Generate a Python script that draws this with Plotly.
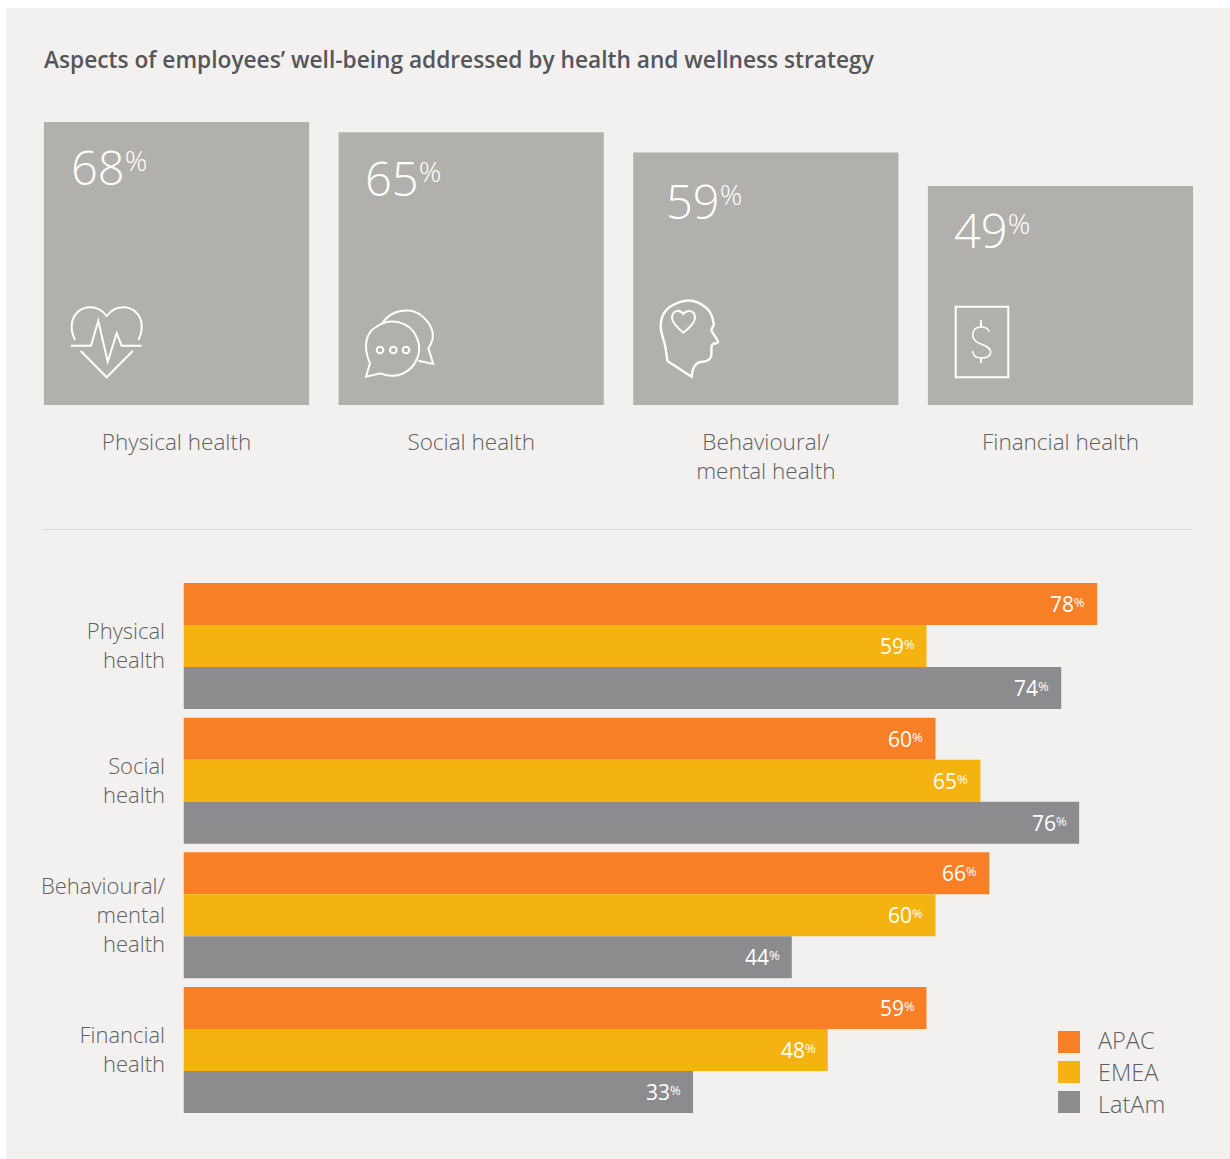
import re
import plotly.graph_objects as go

# Headline figures for the four aspects of well-being
aspects = ["Physical health", "Social health", "Behavioural/<br>mental health", "Financial health"]
overall = [68, 65, 59, 49]

# Regional breakdown
region_labels = ["Physical<br>health", "Social<br>health", "Behavioural/<br>mental<br>health", "Financial<br>health"]
apac = [78, 60, 66, 59]
emea = [59, 65, 60, 48]
latam = [74, 76, 44, 33]
regions = ["APAC", "EMEA", "LatAm"]

W, H = 1230, 1159
FONT = "Open Sans"
TEXT = "#5f6063"
ORANGE, YELLOW, GREY = "#f78027", "#f4b311", "#8c8c8e"
CARD = "#b2b0ad"
PANEL = "#f2f1ef"

# The value axes do not start at zero
CARD_BASE = -16.0
BAR_BASE = -23.74


def fx(px):
    return px / W


def fy(px):
    return 1 - px / H


def to_paper(path):
    """Convert an SVG path written in page pixels into paper coordinates."""
    flag = [True]

    def swap(m):
        v = float(m.group())
        out = fx(v) if flag[0] else fy(v)
        flag[0] = not flag[0]
        return f"{out:.5f}"

    return re.sub(r"-?\d+\.?\d*", swap, path)


def spline(points, tension=6.0):
    """Smooth open path through the points (Catmull-Rom written as cubic segments)."""
    n = len(points)
    d = f"M {points[0][0]} {points[0][1]}"
    for i in range(n - 1):
        p0 = points[i - 1] if i > 0 else points[i]
        p1 = points[i]
        p2 = points[i + 1]
        p3 = points[i + 2] if i + 2 < n else p2
        c1 = (p1[0] + (p2[0] - p0[0]) / tension, p1[1] + (p2[1] - p0[1]) / tension)
        c2 = (p2[0] - (p3[0] - p1[0]) / tension, p2[1] - (p3[1] - p1[1]) / tension)
        d += f" C {c1[0]:.2f} {c1[1]:.2f} {c2[0]:.2f} {c2[1]:.2f} {p2[0]:.2f} {p2[1]:.2f}"
    return d


def zoomed(points, ox, oy):
    """Icon outlines are drafted at 3x; bring them back to page pixels."""
    return [(ox + x / 3, oy + y / 3) for x, y in points]


def icon(path, width=2.0):
    return dict(type="path", xref="paper", yref="paper", path=to_paper(path),
                line=dict(color="white", width=width), fillcolor="rgba(0,0,0,0)", layer="above")


def ring(cx, cy, r, width=2.0):
    return dict(type="circle", xref="paper", yref="paper", x0=fx(cx - r), x1=fx(cx + r),
                y0=fy(cy + r), y1=fy(cy - r), line=dict(color="white", width=width),
                fillcolor="rgba(0,0,0,0)", layer="above")


def pct(value, size, raise_by):
    """Value followed by a small raised percent sign."""
    return f'{value}<span style="font-size:{size}px;baseline-shift:{raise_by}px">%</span>'


fig = go.Figure()

# Cards: one tall bar per aspect
fig.add_trace(go.Bar(
    x=aspects, y=[v - CARD_BASE for v in overall], base=CARD_BASE,
    marker=dict(color=CARD, line=dict(width=0)), width=0.9,
    xaxis="x", yaxis="y", showlegend=False, hoverinfo="x+text",
    hovertext=[f"{v}%" for v in overall],
))

# Regional bars
for name, values, colour in zip(regions, (apac, emea, latam), (ORANGE, YELLOW, GREY)):
    fig.add_trace(go.Bar(
        name=name, orientation="h", y=region_labels,
        x=[v - BAR_BASE for v in values], base=BAR_BASE,
        marker=dict(color=colour, line=dict(width=0)),
        xaxis="x2", yaxis="y2", showlegend=False,
        hovertext=[f"{v}%" for v in values], hoverinfo="y+text+name",
    ))

annotations = []

# Large percentages on the cards, each nudged to its own spot
card_offsets = [(-107.5, -11), (-108.5, -12), (-101.5, -15), (-108.5, -10)]
for label, v, (dx, dy) in zip(aspects, overall, card_offsets):
    annotations.append(dict(
        x=label, y=v, xref="x", yref="y", xanchor="left", yanchor="top",
        xshift=dx, yshift=dy, showarrow=False,
        text=pct(v, 28, 14),
        font=dict(family=FONT, size=47, color="white", weight=350),
    ))

# Value labels inside the end of each regional bar
for idx, values in enumerate((apac, emea, latam)):
    for row, v in enumerate(values):
        annotations.append(dict(
            x=v, y=row + (idx - 1) * 0.3118, xref="x2", yref="y2",
            xanchor="right", yanchor="middle", xshift=-10, yshift=0, showarrow=False,
            text=pct(v, 13, 5.5),
            font=dict(family=FONT, size=21, color="white", weight=400),
        ))

# Region key
shapes = [
    dict(type="rect", xref="paper", yref="paper", x0=fx(6), x1=1.01, y0=-0.01, y1=fy(8),
         fillcolor=PANEL, line=dict(width=0), layer="below"),
    dict(type="line", xref="paper", yref="paper", x0=fx(44), x1=fx(1192), y0=fy(529.5), y1=fy(529.5),
         line=dict(color="#d6d6d4", width=1)),
]
key_swatches = [1031, 1061, 1091]
key_text = [1040, 1072, 1104]
for name, colour, top, mid in zip(regions, (ORANGE, YELLOW, GREY), key_swatches, key_text):
    shapes.append(dict(type="rect", xref="paper", yref="paper", x0=fx(1058), x1=fx(1080),
                       y0=fy(top + 22), y1=fy(top), fillcolor=colour, line=dict(width=0)))
    annotations.append(dict(x=fx(1096), y=fy(mid), xref="paper", yref="paper", xanchor="left",
                            yanchor="middle", showarrow=False, text=name,
                            font=dict(family=FONT, size=23.5, color=TEXT, weight=300)))

# Heart and pulse icon
shapes += [
    icon("M 75 340 C 72.5 335 71.5 331 71.7 326 C 72 315 80 307.3 90 307.3 C 97 307.3 103 311 106.7 316 "
         "C 110.5 311 116.5 307.3 123.3 307.3 C 133.5 307.3 141.5 315 141.7 326 C 141.8 331 141 335 138.3 340"),
    icon("M 71 345.7 L 91 345.7 L 98.3 320.7 L 107.7 361.7 L 116.7 333.3 L 121.7 345.7 L 141.7 345.7"),
    icon("M 80.7 351 L 106.7 377.3 L 132.7 351"),
]

# Speech bubbles icon
shapes += [
    icon("M 370 363.3 C 362 345 367 332 376 327 C 390 317 410 321 417 338 C 423 352 416 368 402 374 "
         "C 394 377 387 376 380.7 373.3 L 366 376.7 Z"),
    icon("M 381.7 324.3 C 390 310 410 306 422 316 C 434 326 436 338 428.3 348.3 L 433.3 364 L 418.3 360.7"),
    ring(380, 350, 3.3), ring(393.3, 350, 3.3), ring(406, 350, 3.3),
]

# Head and heart icon
head = [(82, 213), (76, 170), (62, 110), (75, 65), (115, 38), (160, 33), (205, 60), (221, 100), (215, 122),
        (234, 155), (216, 165), (213, 200), (200, 213), (175, 218), (160, 235), (155, 260)]
shapes += [
    icon(spline(zoomed(head, 640, 290)) + f" L {640 + 82 / 3:.2f} {290 + 213 / 3:.2f}", 2.4),
    icon("M 683.3 314 C 680 309 672 310 672 318 C 672 323 679 329 683.3 332.7 "
         "C 688 329 695 323 695 318 C 695 310 687 309 683.3 314 Z"),
]

# Banknote icon
shapes += [
    dict(type="rect", xref="paper", yref="paper", x0=fx(955.7), x1=fx(1008.3), y0=fy(377.3), y1=fy(306.7),
         line=dict(color="white", width=2), fillcolor="rgba(0,0,0,0)", layer="above"),
    icon("M 989.3 331.7 C 988 328 984.5 327 981 327 C 976 327 972.7 330 972.7 335 C 972.7 340 977 342.5 981 344 "
         "C 986 346 990.7 348 990.7 352 C 990.7 357 986 358 981 358 C 976 358 973 356 972.7 351", 1.6),
    icon("M 981 320 L 981 327"), icon("M 981 358 L 981 363"),
]

fig.update_layout(
    width=W, height=H, margin=dict(l=0, r=0, t=0, b=0),
    paper_bgcolor="white", plot_bgcolor="rgba(0,0,0,0)",
    barmode="group", bargap=0.0644, bargroupgap=0, hovermode="closest",
    title=dict(text="Aspects of employees’ well-being addressed by health and wellness strategy",
               x=fx(44), xanchor="left", xref="paper", y=fy(60), yanchor="middle", yref="paper",
               font=dict(family=FONT, size=22.7, color="#55565a", weight=600)),
    xaxis=dict(domain=[fx(29.2), fx(1207.8)], anchor="y", type="category", showgrid=False, zeroline=False,
               showline=False, ticks="outside", ticklen=17, tickcolor="rgba(0,0,0,0)",
               tickfont=dict(family=FONT, size=22.5, color=TEXT, weight=300), fixedrange=True),
    yaxis=dict(domain=[fy(405), fy(100)], anchor="x", range=[CARD_BASE, CARD_BASE + 305 / 3.368],
               visible=False, fixedrange=True),
    xaxis2=dict(domain=[fx(183.5), fx(1200)], anchor="y2", range=[BAR_BASE, BAR_BASE + (1200 - 183.5) / 8.98],
                visible=False, fixedrange=True),
    yaxis2=dict(domain=[fy(1117.33), fy(578.67)], anchor="x2", type="category", autorange="reversed",
                showgrid=False, zeroline=False, showline=False, ticks="outside", ticklen=13,
                tickcolor="rgba(0,0,0,0)", tickfont=dict(family=FONT, size=22, color=TEXT, weight=300),
                fixedrange=True),
    shapes=shapes, annotations=annotations,
)

fig.write_html("out.html", config=dict(displayModeBar=False))
